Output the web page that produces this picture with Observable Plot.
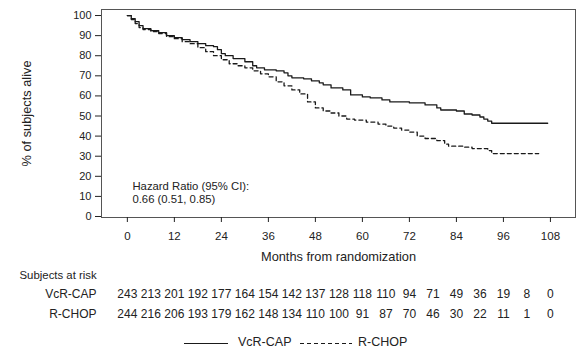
<!DOCTYPE html>
<html>
<head>
<meta charset="utf-8">
<script src="https://cdn.jsdelivr.net/npm/d3@7"></script>
<script src="https://cdn.jsdelivr.net/npm/@observablehq/plot@0.6"></script>
<style>
  html, body { margin: 0; padding: 0; background: #fff; }
  body { width: 587px; height: 356px; overflow: hidden; font-family: "Liberation Sans", Arial, sans-serif; color: #222; }
  #legend { position: relative; width: 587px; height: 26px; font-size: 12.5px; }
  #legend span { position: absolute; top: 5px; line-height: 15px; }
  #legend svg { position: absolute; top: 0; }
</style>
</head>
<body>
<div id="chart"></div>
<div id="legend"></div>
<script>
// Kaplan-Meier curves (months, % alive)
const vcrMonths = [0, 1, 2, 3, 4, 6, 8, 10, 12, 14, 16, 18, 20, 22, 23, 24, 25, 27, 30, 32, 33, 35, 38, 40, 41, 42, 44, 45, 47, 49, 50, 52, 55, 57, 60, 62, 65, 67, 72, 76, 79, 80, 84, 86, 88, 90, 91, 92, 93, 107.3];
const vcrSurv   = [100, 98.5, 97, 95, 93.5, 92.5, 91.5, 90, 89, 88, 87, 86, 85, 84.5, 83, 81, 80, 78.6, 77, 75, 74, 73, 72.5, 71.5, 70, 69, 69, 68.5, 67.5, 66.5, 65.5, 64, 63, 60.5, 59.5, 59, 58, 57, 56.5, 55.5, 54, 53, 52.5, 51, 50.5, 49.5, 48.5, 47.5, 46.4, 46.4];
const rchopMonths = [0, 1, 2, 3, 4, 6, 8, 10, 12, 14, 16, 18, 20, 22, 24, 26, 28, 30, 32, 34, 36, 38, 40, 42, 44, 46, 48, 50, 52, 54, 56, 58, 61, 64, 66, 68, 70, 72, 74, 76, 79, 81, 82, 86, 88, 92, 93, 105];
const rchopSurv   = [100, 98, 96, 94, 93, 92, 91, 89.5, 88.5, 87, 86, 84, 82, 80, 78, 76, 75, 74, 72.5, 71, 69.5, 67, 65, 63, 61, 57, 54, 52.5, 51.5, 50, 48.5, 48, 47, 46, 45, 44, 43, 42, 40, 38.8, 37.8, 36, 35, 34.5, 33.8, 32.8, 31.3, 31.3];

// Subjects at risk table
const riskMonths = [0, 6, 12, 18, 24, 30, 36, 42, 48, 54, 60, 66, 72, 78, 84, 90, 96, 102, 108];
const vcrRisk    = [243, 213, 201, 192, 177, 164, 154, 142, 137, 128, 118, 110, 94, 71, 49, 36, 19, 8, 0];
const rchopRisk  = [244, 216, 206, 193, 179, 162, 148, 134, 110, 100, 91, 87, 70, 46, 30, 22, 11, 1, 0];

const xTicks = [0, 12, 24, 36, 48, 60, 72, 84, 96, 108];
const yTicks = [0, 10, 20, 30, 40, 50, 60, 70, 80, 90, 100];
const seriesNames = ["VcR-CAP", "R-CHOP"];
const hrText = "Hazard Ratio (95% CI):\n0.66 (0.51, 0.85)";

const vcr = vcrMonths.map((m, i) => ({month: m, pct: vcrSurv[i]}));
const rchop = rchopMonths.map((m, i) => ({month: m, pct: rchopSurv[i]}));
const riskVcr = riskMonths.map((m, i) => ({month: m, n: vcrRisk[i]}));
const riskRchop = riskMonths.map((m, i) => ({month: m, n: rchopRisk[i]}));

const ink = "#222";
const chart = Plot.plot({
  width: 587,
  height: 330,
  marginTop: 9,
  marginLeft: 101,
  marginRight: 12,
  marginBottom: 113,
  style: {fontFamily: "Liberation Sans, Arial, sans-serif", fontSize: "11px", color: ink, background: "#fff"},
  x: {domain: [-6.6, 114.4]},
  y: {domain: [-0.5, 103]},
  marks: [
    Plot.frame({stroke: "#555", strokeWidth: 1}),
    Plot.axisX(xTicks, {anchor: "bottom", tickSize: 5, tickPadding: 9, fontSize: 11.5, label: null}),
    Plot.axisX({anchor: "bottom", ticks: [], tickSize: 0, fontSize: 12.8,
      label: "Months from randomization", labelAnchor: "center", labelOffset: 43, labelArrow: "none"}),
    Plot.axisY(yTicks, {anchor: "left", tickSize: 6, tickPadding: 4, fontSize: 11, label: null}),
    Plot.axisY({anchor: "left", ticks: [], tickSize: 0, fontSize: 12.8,
      label: "% of subjects alive", labelAnchor: "center", labelOffset: 80, labelArrow: "none"}),
    Plot.line(vcr, {x: "month", y: "pct", curve: "step-after", stroke: "#1a1a1a", strokeWidth: 1.3}),
    Plot.line(rchop, {x: "month", y: "pct", curve: "step-after", stroke: "#1a1a1a", strokeWidth: 1.3, strokeDasharray: "4,3"}),
    Plot.text([hrText], {x: 1.3, y: 12.2, text: d => d, textAnchor: "start", lineAnchor: "middle", lineHeight: 1.18, fontSize: 11.3, fill: ink}),
    Plot.text(["Subjects at risk"], {frameAnchor: "bottom-left", dx: -82, dy: 61, text: d => d, textAnchor: "start", fontSize: 11.4, fill: ink}),
    Plot.text([seriesNames[0]], {frameAnchor: "bottom-left", dx: -5, dy: 80, text: d => d, textAnchor: "end", fontSize: 12, fill: ink}),
    Plot.text([seriesNames[1]], {frameAnchor: "bottom-left", dx: -5, dy: 100, text: d => d, textAnchor: "end", fontSize: 12, fill: ink}),
    Plot.text(riskVcr, {x: "month", frameAnchor: "bottom", dy: 80, text: "n", fontSize: 12, fill: ink}),
    Plot.text(riskRchop, {x: "month", frameAnchor: "bottom", dy: 100, text: "n", fontSize: 12, fill: ink})
  ]
});
document.getElementById("chart").appendChild(chart);

// Legend
const legend = document.getElementById("legend");
const NS = "http://www.w3.org/2000/svg";
function addLine(left, width, dash) {
  const s = document.createElementNS(NS, "svg");
  s.setAttribute("width", width); s.setAttribute("height", 26);
  s.style.left = left + "px";
  const l = document.createElementNS(NS, "line");
  l.setAttribute("x1", 0); l.setAttribute("x2", width);
  l.setAttribute("y1", 13.5); l.setAttribute("y2", 13.5);
  l.setAttribute("stroke", "#1a1a1a"); l.setAttribute("stroke-width", 1.2);
  if (dash) l.setAttribute("stroke-dasharray", dash);
  s.appendChild(l); legend.appendChild(s);
}
function addText(left, t) {
  const sp = document.createElement("span");
  sp.style.left = left + "px"; sp.textContent = t; legend.appendChild(sp);
}
addLine(184, 44, null);
addText(238, seriesNames[0]);
addLine(300, 52, "4,3");
addText(358, seriesNames[1]);
</script>
</body>
</html>
